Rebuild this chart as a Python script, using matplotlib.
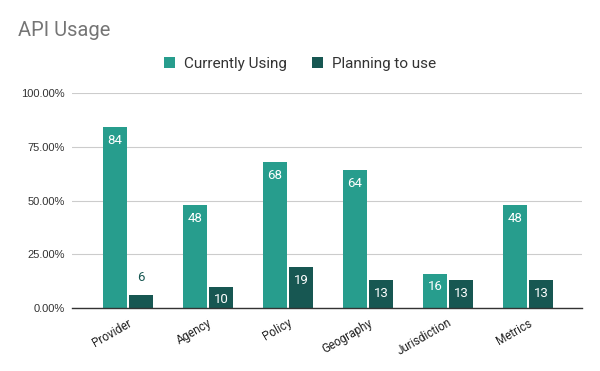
import numpy as np
import matplotlib
matplotlib.use('Agg')
import matplotlib.pyplot as plt
from matplotlib.ticker import PercentFormatter

matplotlib.rcParams['font.family'] = ['Roboto', 'DejaVu Sans']

categories = ['Provider', 'Agency', 'Policy', 'Geography', 'Jurisdiction', 'Metrics']
currentlyUsing = [84, 48, 68, 64, 16, 48]
planningToUse = [6, 10, 19, 13, 13, 13]
seriesNames = ['Currently Using', 'Planning to use']

colorCurrent = '#279d8d'
colorPlanning = '#175752'
barWidth = 0.3
offset = 0.1625

fig = plt.figure(figsize=(6, 3.71), dpi=100)
ax = fig.add_axes([0.12, 0.1698, 0.85, 0.5795])

xpos = np.arange(len(categories))
series = [(currentlyUsing, colorCurrent, -offset), (planningToUse, colorPlanning, offset)]
for (vals, color, dx), name in zip(series, seriesNames):
    heights = np.array(vals) / 100.0
    bars = ax.bar(xpos + dx, heights, width=barWidth, color=color, label=name, zorder=3)
    for bar, v in zip(bars, vals):
        cx = bar.get_x() + bar.get_width() / 2
        top = bar.get_height()
        if top > 0.09:
            ax.annotate(str(v), (cx, top), xytext=(0, -9.5), textcoords='offset points',
                        ha='center', va='center', color='white', fontsize=9.5, zorder=4)
        else:
            ax.annotate(str(v), (cx, top), xytext=(0, 13), textcoords='offset points',
                        ha='center', va='center', color=colorPlanning, fontsize=9.5, zorder=4)

ax.set_xlim(-0.7, 5.675)
ax.set_ylim(0, 1)
ax.set_yticks([0, 0.25, 0.5, 0.75, 1.0])
ax.yaxis.set_major_formatter(PercentFormatter(xmax=1, decimals=2))
ax.set_xticks(xpos)
ax.set_xticklabels(categories, rotation=30, ha='right', rotation_mode='anchor', fontsize=8.5,
                   color='#222222')
ax.tick_params(axis='x', length=0, pad=6)
ax.tick_params(axis='y', length=0, pad=5, labelsize=8, labelcolor='#333333')
for lab in ax.get_yticklabels():
    lab.set_family(['Liberation Sans', 'DejaVu Sans'])

ax.grid(axis='y', color='#cccccc', lw=0.8, zorder=0)
for s in ['top', 'right', 'left']:
    ax.spines[s].set_visible(False)
ax.spines['bottom'].set_color('#333333')
ax.spines['bottom'].set_linewidth(1)
ax.spines['bottom'].set_zorder(5)

fig.text(0.03, 0.918, 'API Usage', fontsize=14.5, color='#757575', va='center', ha='left')
fig.legend(loc='center', bbox_to_anchor=(0.5, 0.827), ncol=2, frameon=False, fontsize=11,
           handlelength=0.75, handleheight=0.75, handletextpad=0.6, columnspacing=1.6,
           labelcolor='#333333')

fig.savefig('out.png', dpi=100)
